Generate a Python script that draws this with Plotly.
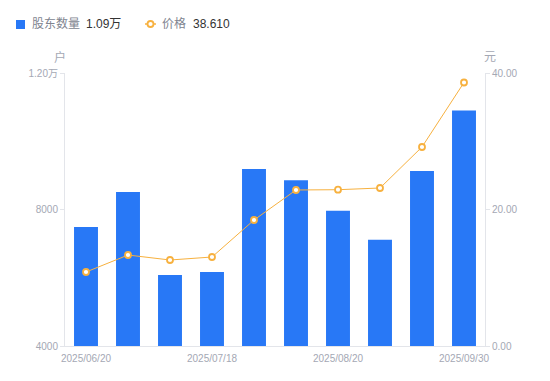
import plotly.graph_objects as go

dates = ["2025/06/20", "2025/06/30", "2025/07/10", "2025/07/18", "2025/07/31",
         "2025/08/10", "2025/08/20", "2025/08/31", "2025/09/10", "2025/09/30"]
holders = [7490, 8510, 6080, 6170, 9190, 8860, 7960, 7110, 9130, 10900]
price = [10.84, 13.33, 12.60, 13.04, 18.46, 22.86, 22.90, 23.15, 29.16, 38.61]

left_ticks = [4000, 8000, 12000]
left_text = ["4000", "8000", "1.20万"]
right_ticks = [0, 20, 40]
right_text = ["0.00", "20.00", "40.00"]
x_label_idx = [0, 3, 6, 9]

idx = list(range(len(dates)))
grey = "#a4a8b4"
axis_c = "#e3e5ea"
fam = "Liberation Sans, Arial, Noto Sans CJK SC, sans-serif"


def px(xw):
    return (xw - 65) / 420


def py(yw):
    return 1 + (73 - yw) / 273


fig = go.Figure()
fig.add_trace(go.Bar(
    x=idx, y=holders, name="股东数量",
    marker=dict(color="#2878f6", line=dict(width=0)),
    customdata=dates, yaxis="y",
))
fig.add_trace(go.Scatter(
    x=idx, y=price, name="价格", mode="lines+markers", yaxis="y2",
    line=dict(color="#f7b13f", width=1),
    marker=dict(size=6, color="white", line=dict(color="#f7b13f", width=1.8)),
    customdata=dates,
))

fig.update_layout(
    width=550, height=381,
    margin=dict(l=57, r=73, t=65, b=43),
    paper_bgcolor="white", plot_bgcolor="white",
    font=dict(family=fam, size=10, color=grey),
    bargap=0.43,
    showlegend=False,
    xaxis=dict(
        range=[-0.5, 9.5], tickvals=x_label_idx, ticktext=[dates[i] for i in x_label_idx],
        showgrid=False, zeroline=False, showline=True, linecolor=axis_c, linewidth=1,
        ticks="outside", ticklen=3, tickcolor="rgba(0,0,0,0)", tickfont=dict(size=10, color=grey),
    ),
    yaxis=dict(
        range=[4000, 12000], tickvals=left_ticks, ticktext=left_text,
        showgrid=False, zeroline=False, showline=True, linecolor=axis_c, linewidth=1,
        ticks="outside", ticklen=4, tickcolor=axis_c, tickfont=dict(size=10, color=grey),
    ),
    yaxis2=dict(
        range=[0, 40], tickvals=right_ticks, ticktext=right_text,
        overlaying="y", side="right",
        showgrid=False, zeroline=False, showline=True, linecolor=axis_c, linewidth=1,
        ticks="outside", ticklen=4, tickcolor=axis_c, tickfont=dict(size=10, color=grey),
    ),
    annotations=[
        dict(text="户", xref="paper", yref="paper", x=px(60), y=py(57), showarrow=False,
             xanchor="center", yanchor="middle", font=dict(size=12, color=grey)),
        dict(text="元", xref="paper", yref="paper", x=px(490), y=py(57), showarrow=False,
             xanchor="center", yanchor="middle", font=dict(size=12, color=grey)),
        dict(text="股东数量", xref="paper", yref="paper", x=px(30), y=py(24), showarrow=False,
             xanchor="left", yanchor="middle", font=dict(size=12, color="#80848f")),
        dict(text="1.09万", xref="paper", yref="paper", x=px(84), y=py(24), showarrow=False,
             xanchor="left", yanchor="middle", font=dict(size=12, color="#333333")),
        dict(text="价格", xref="paper", yref="paper", x=px(160), y=py(24), showarrow=False,
             xanchor="left", yanchor="middle", font=dict(size=12, color="#80848f")),
        dict(text="38.610", xref="paper", yref="paper", x=px(191), y=py(24), showarrow=False,
             xanchor="left", yanchor="middle", font=dict(size=12, color="#333333")),
    ],
    shapes=[
        dict(type="rect", xref="paper", yref="paper",
             x0=px(16), x1=px(25), y0=py(29), y1=py(20),
             fillcolor="#2878f6", line=dict(width=0)),
        dict(type="line", xref="paper", yref="paper",
             x0=px(145), x1=px(156), y0=py(24), y1=py(24),
             line=dict(color="#f7b13f", width=1.5)),
        dict(type="circle", xref="paper", yref="paper",
             x0=px(147.5), x1=px(153.5), y0=py(27), y1=py(21),
             fillcolor="white", line=dict(color="#f7b13f", width=1.8)),
    ],
)

fig.write_html("out.html")
